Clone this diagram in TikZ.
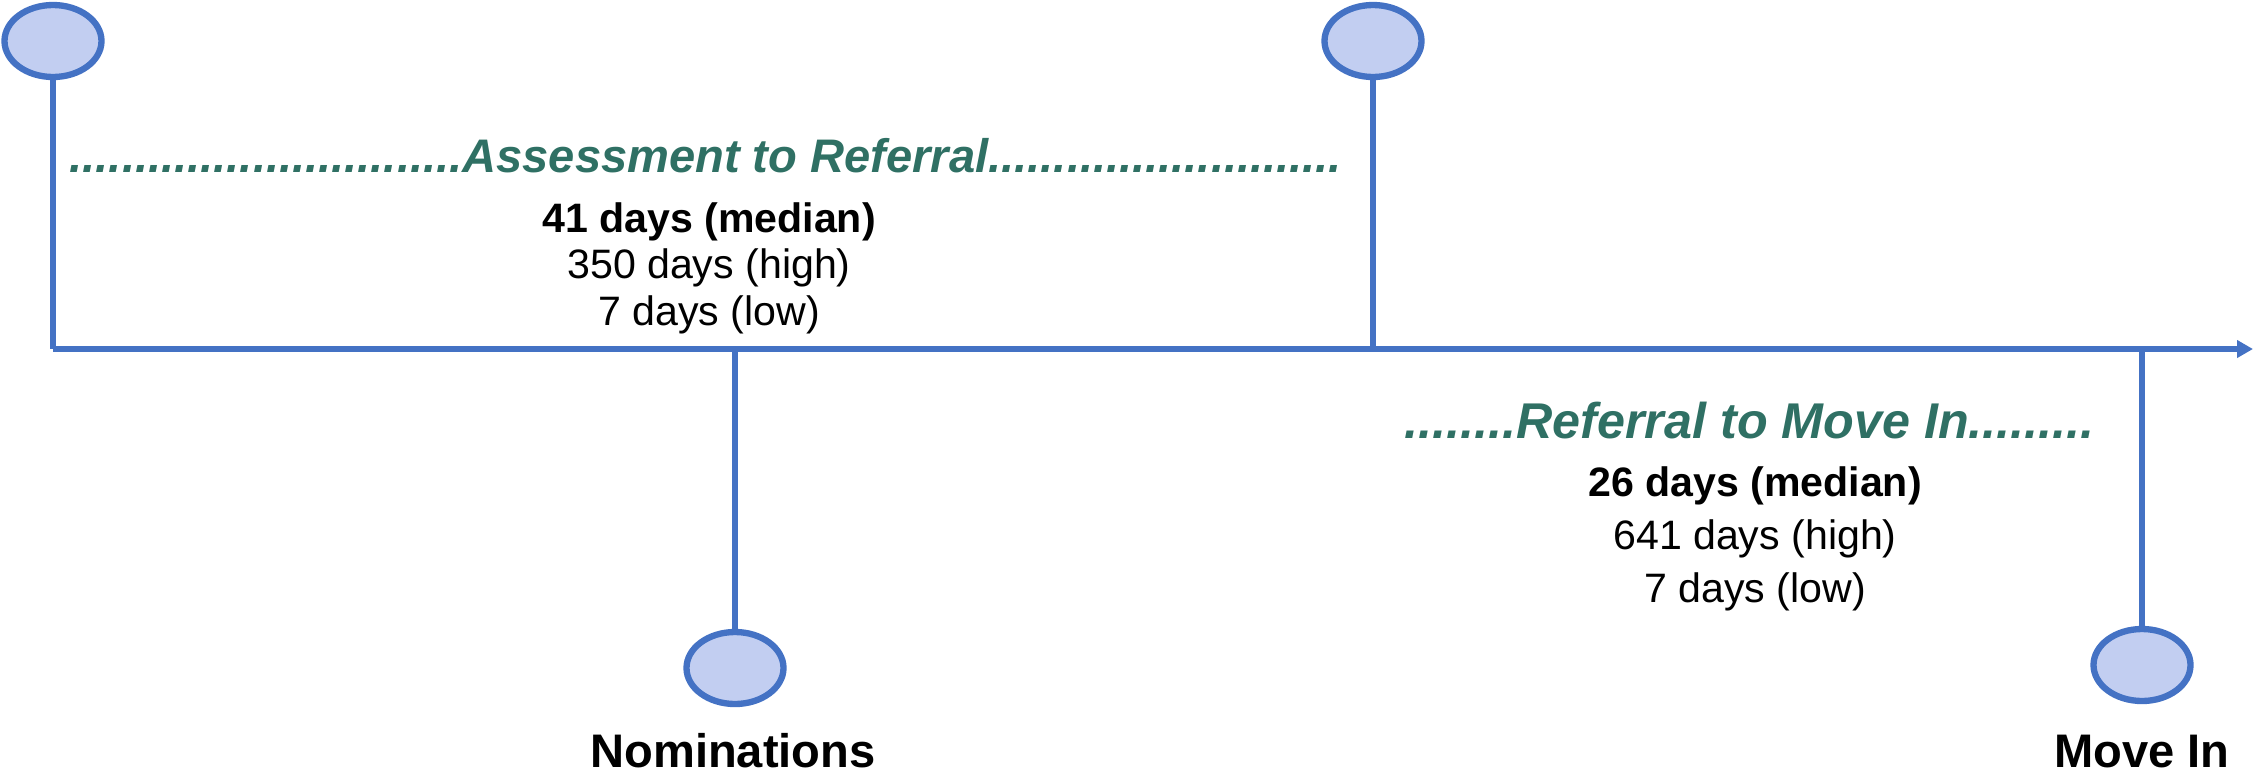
\documentclass[tikz,border=0pt]{standalone}
\usepackage{fontspec}
\setmainfont{Liberation Sans}
\usetikzlibrary{arrows.meta,shapes.geometric}
\definecolor{lineblue}{RGB}{68,114,196}
\definecolor{bubblefill}{RGB}{194,206,241}
\definecolor{phasegreen}{RGB}{47,112,100}
\begin{document}
\begin{tikzpicture}[line join=round,
	bubble/.style={ellipse,draw=lineblue,fill=bubblefill,line width=1.8pt,minimum width=0.97cm,minimum height=0.72cm,inner sep=0pt},
	stem/.style={draw=lineblue,line width=1.7pt},
	phase/.style={font=\fontsize{#1}{15}\selectfont\bfseries\itshape,text=phasegreen,inner sep=0pt,anchor=base west},
	stats/.style={font=\fontsize{11.7}{#1}\selectfont,align=center,inner sep=0pt,anchor=base},
	milestone/.style={font=\fontsize{13.4}{15}\selectfont\bfseries,inner sep=0pt,anchor=base}]
	\useasboundingbox (0,0) rectangle (22.54,-7.73);
	%Trục thời gian
	\path (0.53,-3.49) coordinate (T0) (22.53,-3.49) coordinate (T1);
	\draw[stem,-{Triangle[length=0.16cm,width=0.17cm]}] (T0)--(T1);
	%Các mốc
	\foreach \n/\x/\y in {assess/0.53/-0.41,refer/13.73/-0.41,nominate/7.35/-6.68,movein/21.42/-6.65}{
		\node[bubble] (\n) at (\x,\y) {};}
	\foreach \n in {assess,refer}{
		\draw[stem] (\n.south)--(\n.south|-T0);}
	\foreach \n in {nominate,movein}{
		\draw[stem] (\n.north)--(\n.north|-T0);}
	\node[milestone] (nomlabel) at (7.33,-7.67) {Nominations};
	\node[milestone] (movelabel) at (21.42,-7.67) {Move In};
	%Giai đoạn
	\node[phase=13.4] (phaseA) at (0.69,-1.72) {..............................Assessment to Referral...........................};
	\node[phase=14.3] (phaseB) at (14.04,-4.38) {........Referral to Move In.........};
	\node[stats=13.1] (statsA) at (7.09,-3.25) {\textbf{41 days (median)}\\350 days (high)\\7 days (low)};
	\node[stats=15] (statsB) at (17.55,-6.02) {\textbf{26 days (median)}\\641 days (high)\\7 days (low)};
\end{tikzpicture}
\end{document}
